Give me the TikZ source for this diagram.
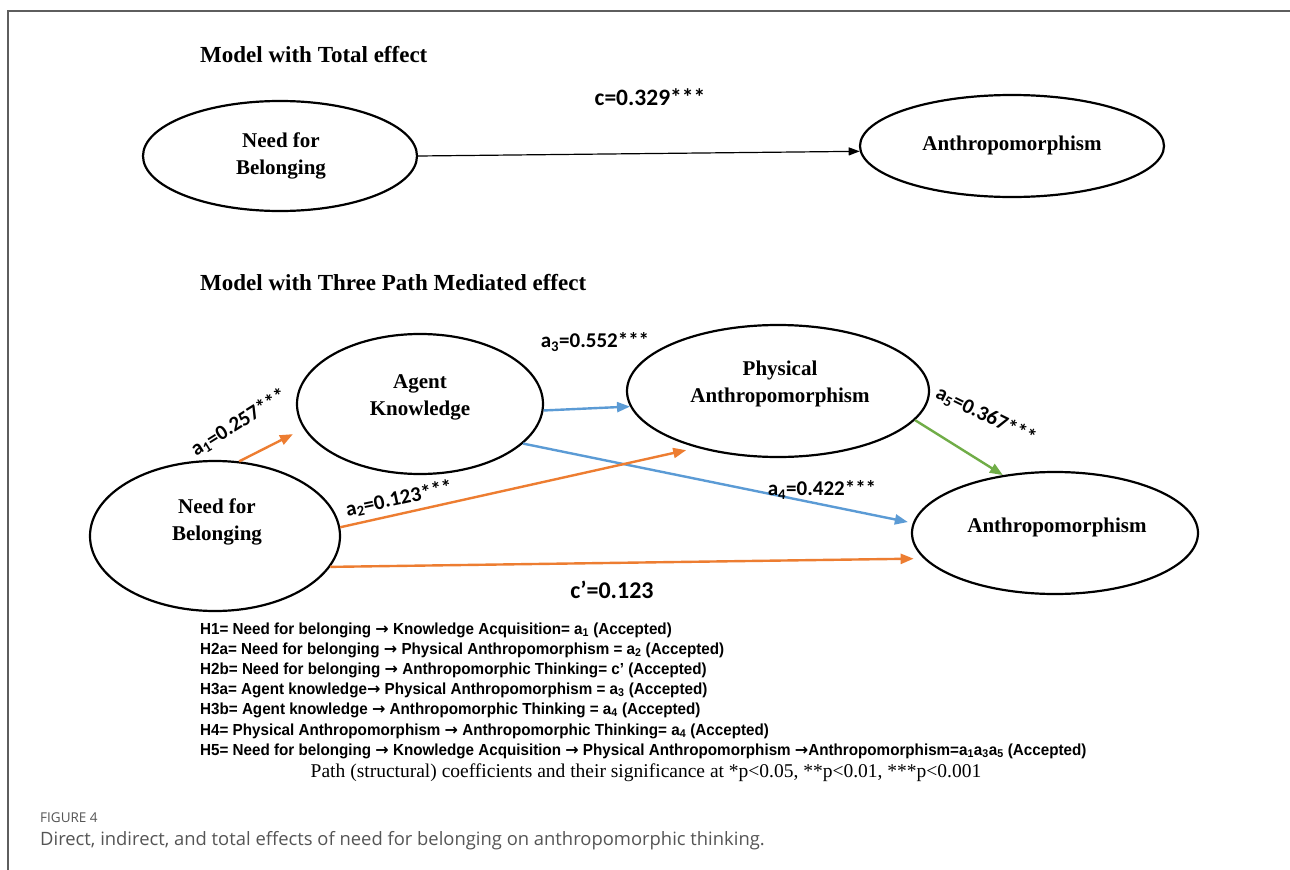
\documentclass[tikz,border=0pt]{standalone}
\usepackage{fontspec}
\setmainfont{Liberation Serif}
\newfontfamily\labfont{Carlito}
\newfontfamily\hypfont[FakeStretch=0.95]{Liberation Sans}
\newfontfamily\arrfont{DejaVu Sans}
\newfontfamily\capfont{Open Sans}
\newcommand{\harr}{{\arrfont\bfseries →}}
\usetikzlibrary{shapes.geometric,arrows.meta,calc}
\definecolor{orng}{HTML}{ED7D31}
\definecolor{blu}{HTML}{5B9BD5}
\definecolor{grn}{HTML}{70AD47}
\definecolor{framec}{HTML}{5E5E5E}
\definecolor{capc}{HTML}{555555}
\begin{document}
\begin{tikzpicture}[x=1bp,y=-1bp,
  latent/.style={ellipse,draw,line width=2.2bp,inner sep=0pt},
  lt/.style={align=center,inner sep=0pt,font=\bfseries\fontsize{21bp}{27bp}\selectfont},
  patharrow/.style={line width=2.4bp,-{Triangle[length=13bp,width=10bp]}},
  coef/.style={font=\labfont\bfseries\fontsize{21bp}{25bp}\selectfont,inner sep=0pt},
  hyp/.style={font=\hypfont\bfseries\fontsize{16bp}{20bp}\selectfont,anchor=base west,inner sep=0pt},
  ttl/.style={font=\bfseries\fontsize{23bp}{26bp}\selectfont,anchor=west,inner sep=0pt}]
\useasboundingbox (0,0) rectangle (1290,870);
\fill[white] (0,0) rectangle (1290,870);
% frame
\draw[framec,line width=2bp] (8,870) -- (8,11) -- (1290,11);

% ---- total effect model
\node[ttl] (t1) at (200,55) {Model with Total effect};
\node[latent,minimum width=274bp,minimum height=110bp] (nb1) at (280,156) {};
\node[lt] (nb1t) at (281,156) {Need for\\Belonging};
\node[latent,minimum width=304bp,minimum height=102bp] (an1) at (1012,146) {};
\node[lt] (an1t) at (1012,145) {Anthropomorphism};
\draw[line width=1.2bp,-{Triangle[length=11bp,width=8bp]}] (nb1.east) -- (an1.182);
\node[coef,font=\labfont\bfseries\fontsize{23.5bp}{26bp}\selectfont] (lc) at (650,97) {c=0.329***};

% ---- mediated model
\node[ttl] (t2) at (200,283) {Model with Three Path Mediated effect};
\node[latent,minimum width=246bp,minimum height=140bp] (ak) at (420,404) {};
\node[lt] (akt) at (420,397) {Agent\\Knowledge};
\node[latent,minimum width=302bp,minimum height=132bp] (pa) at (778,391) {};
\node[lt] (pat) at (780,384) {Physical\\Anthropomorphism};
\node[latent,minimum width=286bp,minimum height=122bp] (an2) at (1055,533) {};
\node[lt] (an2t) at (1057,527) {Anthropomorphism};
\node[latent,minimum width=250bp,minimum height=150bp] (nb2) at (215,536) {};
\node[lt] (nb2t) at (217,522) {Need for\\Belonging};

\draw[patharrow,orng,shorten >=12bp] (nb2.72) -- (ak.192);
\draw[patharrow,blu] (ak.-3) -- (pa.186);
\draw[patharrow,blu,shorten >=5bp] (ak.-21) -- (an2.176);
\draw[patharrow,orng,shorten >=11bp] (nb2.4) -- (pa.215);
\draw[patharrow,orng,shorten >=10bp] (nb2.-15) -- (an2.191);
\draw[patharrow,grn] (pa.-12) -- (an2.132);

\node[coef,rotate=32] (la1) at (239,423) {a\textsubscript{1}=0.257***};
\node[coef] (la3) at (595,342) {a\textsubscript{3}=0.552***};
\node[coef,rotate=12] (la2) at (399,499) {a\textsubscript{2}=0.123***};
\node[coef] (la4) at (822,490) {a\textsubscript{4}=0.422***};
\node[coef,rotate=-26] (la5) at (986,416) {a\textsubscript{5}=0.367***};
\node[coef,font=\labfont\bfseries\fontsize{24bp}{26bp}\selectfont] (lcp) at (612,590) {c’=0.123};

% ---- hypotheses
\node[hyp] (h1) at (200,634) {H1= Need for belonging \harr{} Knowledge Acquisition= a\textsubscript{1} (Accepted)};
\node[hyp] (h2a) at (200,654) {H2a= Need for belonging \harr{} Physical Anthropomorphism = a\textsubscript{2} (Accepted)};
\node[hyp] (h2b) at (200,674) {H2b= Need for belonging \harr{} Anthropomorphic Thinking= c’ (Accepted)};
\node[hyp] (h3a) at (200,694) {H3a= Agent knowledge\harr{} Physical Anthropomorphism = a\textsubscript{3} (Accepted)};
\node[hyp] (h3b) at (200,714) {H3b= Agent knowledge \harr{} Anthropomorphic Thinking = a\textsubscript{4} (Accepted)};
\node[hyp] (h4) at (200,735) {H4= Physical Anthropomorphism \harr{} Anthropomorphic Thinking= a\textsubscript{4} (Accepted)};
\node[hyp] (h5) at (200,755) {H5= Need for belonging \harr{} Knowledge Acquisition \harr{} Physical Anthropomorphism \harr{}Anthropomorphism=a\textsubscript{1}a\textsubscript{3}a\textsubscript{5} (Accepted)};
\node[font=\fontsize{19.5bp}{22bp}\selectfont,inner sep=0pt] (pnote) at (646,773) {Path (structural) coefficients and their significance at *p<0.05, **p<0.01, ***p<0.001};

% ---- caption
\node[font=\capfont\fontsize{13.5bp}{16bp}\selectfont,text=capc,anchor=west,inner sep=0pt] (fig) at (40,818) {FIGURE 4};
\node[font=\capfont\fontsize{18.4bp}{20bp}\selectfont,text=capc,anchor=west,inner sep=0pt] (capt) at (40,841) {Direct, indirect, and total effects of need for belonging on anthropomorphic thinking.};
\end{tikzpicture}
\end{document}
